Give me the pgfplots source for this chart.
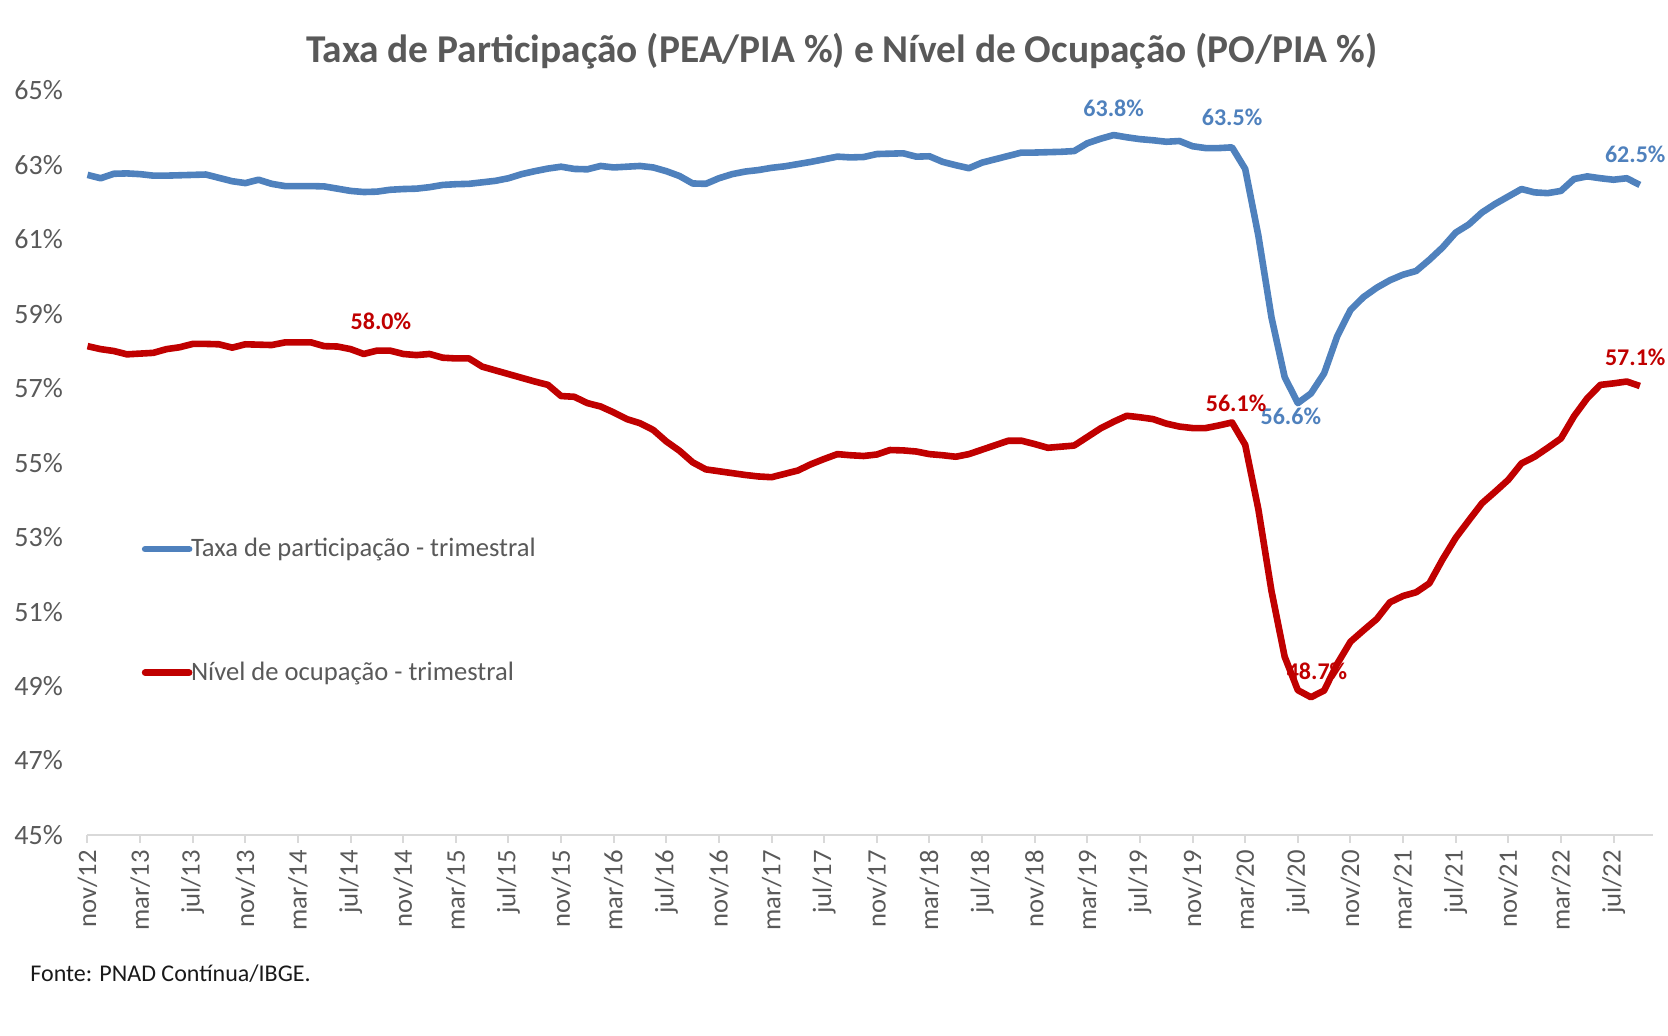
\documentclass[border=0pt]{standalone}
\usepackage{fontspec}
\setmainfont{Carlito}
\usepackage{pgfplots}
\usepackage{pgfplotstable}
\pgfplotsset{compat=1.18}
\definecolor{txtgray}{HTML}{595959}
\definecolor{axgray}{HTML}{D9D9D9}
\definecolor{serblue}{HTML}{4F81BD}
\definecolor{serred}{HTML}{C00000}

\pgfplotstableread{
i v
0 62.73
1 62.64
2 62.76
3 62.77
4 62.75
5 62.71
6 62.71
7 62.72
8 62.73
9 62.74
10 62.65
11 62.56
12 62.51
13 62.60
14 62.49
15 62.43
16 62.43
17 62.43
18 62.42
19 62.36
20 62.30
21 62.27
22 62.28
23 62.33
24 62.35
25 62.36
26 62.40
27 62.46
28 62.48
29 62.49
30 62.53
31 62.57
32 62.64
33 62.75
34 62.83
35 62.90
36 62.95
37 62.89
38 62.88
39 62.97
40 62.93
41 62.95
42 62.97
43 62.93
44 62.83
45 62.70
46 62.50
47 62.49
48 62.64
49 62.75
50 62.82
51 62.86
52 62.92
53 62.96
54 63.02
55 63.08
56 63.15
57 63.22
58 63.20
59 63.21
60 63.29
61 63.30
62 63.31
63 63.22
64 63.23
65 63.08
66 62.99
67 62.91
68 63.06
69 63.15
70 63.24
71 63.33
72 63.33
73 63.34
74 63.35
75 63.37
76 63.58
77 63.70
78 63.80
79 63.74
80 63.69
81 63.66
82 63.62
83 63.64
84 63.50
85 63.45
86 63.45
87 63.47
88 62.89
89 61.10
90 58.90
91 57.30
92 56.60
93 56.86
94 57.40
95 58.40
96 59.10
97 59.45
98 59.70
99 59.90
100 60.05
101 60.15
102 60.45
103 60.78
104 61.18
105 61.40
106 61.72
107 61.95
108 62.15
109 62.35
110 62.26
111 62.24
112 62.30
113 62.62
114 62.69
115 62.64
116 62.60
117 62.64
118 62.46
}\taxa

\pgfplotstableread{
i v
0 58.13
1 58.05
2 58.00
3 57.91
4 57.93
5 57.95
6 58.05
7 58.10
8 58.19
9 58.19
10 58.18
11 58.09
12 58.18
13 58.17
14 58.16
15 58.23
16 58.23
17 58.23
18 58.13
19 58.12
20 58.05
21 57.92
22 58.01
23 58.01
24 57.92
25 57.89
26 57.92
27 57.82
28 57.80
29 57.80
30 57.58
31 57.48
32 57.38
33 57.28
34 57.18
35 57.09
36 56.79
37 56.77
38 56.60
39 56.51
40 56.35
41 56.17
42 56.06
43 55.88
44 55.57
45 55.32
46 55.01
47 54.82
48 54.77
49 54.72
50 54.67
51 54.63
52 54.61
53 54.70
54 54.79
55 54.96
56 55.10
57 55.23
58 55.20
59 55.18
60 55.22
61 55.34
62 55.33
63 55.30
64 55.23
65 55.20
66 55.16
67 55.23
68 55.35
69 55.47
70 55.59
71 55.59
72 55.50
73 55.40
74 55.43
75 55.46
76 55.69
77 55.92
78 56.10
79 56.26
80 56.22
81 56.17
82 56.05
83 55.97
84 55.93
85 55.93
86 56.00
87 56.08
88 55.48
89 53.75
90 51.55
91 49.79
92 48.89
93 48.70
94 48.88
95 49.60
96 50.19
97 50.50
98 50.80
99 51.25
100 51.42
101 51.52
102 51.76
103 52.40
104 52.98
105 53.45
106 53.91
107 54.22
108 54.54
109 54.98
110 55.16
111 55.40
112 55.65
113 56.25
114 56.73
115 57.09
116 57.13
117 57.18
118 57.06
}\nivel

\begin{document}
\begin{tikzpicture}
\useasboundingbox (0,0) rectangle (834pt,518pt);
\begin{axis}[
  at={(43.75pt,100.5pt)}, anchor=south west,
  scale only axis, width=782.75pt, height=372.3pt,
  xmin=0, xmax=119, ymin=45, ymax=65,
  axis lines*=left,
  x axis line style={draw=axgray, line width=1pt},
  y axis line style={draw=none},
  ytick={45,47,49,51,53,55,57,59,61,63,65},
  yticklabels={45\%,47\%,49\%,51\%,53\%,55\%,57\%,59\%,61\%,63\%,65\%},
  ytick style={draw=none},
  xtick={0,4,...,116},
  xticklabels={nov/12,mar/13,jul/13,nov/13,mar/14,jul/14,nov/14,mar/15,jul/15,nov/15,mar/16,jul/16,nov/16,mar/17,jul/17,nov/17,mar/18,jul/18,nov/18,mar/19,jul/19,nov/19,mar/20,jul/20,nov/20,mar/21,jul/21,nov/21,mar/22,jul/22},
  xtick style={draw=axgray, line width=1pt},
  tick align=outside, major tick length=4pt,
  x tick label style={rotate=90, anchor=east, font=\fontsize{13.3}{15}\selectfont, text=txtgray},
  y tick label style={font=\fontsize{14}{16}\selectfont, text=txtgray, xshift=-4.8pt},
  clip=false,
  legend cell align=left,
  legend image code/.code={\draw[#1, line cap=round] (0pt,0pt) -- (22pt,0pt);},
  legend style={draw=none, fill=none, inner sep=0pt, at={(axis cs:4.1,51.02)}, anchor=west,
    font=\fontsize{13.3}{15}\selectfont, text=txtgray, row sep=47pt},
]
\addplot[serblue, line width=3.3pt, line join=round] table[x=i, y=v] {\taxa};
\addlegendentry{\hspace*{-2.7pt}Taxa de participação - trimestral}
\addplot[serred, line width=3.3pt, line join=round] table[x=i, y=v] {\nivel};
\addlegendentry{\hspace*{-2.7pt}Nível de ocupação - trimestral}

\tikzset{lbl/.style={font=\bfseries\fontsize{12}{14}\selectfont}}
\node[lbl, text=serblue] at (axis cs:78,63.80) [yshift=13.3pt] {63.8\%};
\node[lbl, text=serblue] at (axis cs:87,63.47) [yshift=15pt] {63.5\%};
\node[lbl, text=serblue] at (axis cs:118,62.46) [xshift=-2.3pt, yshift=15.4pt] {62.5\%};
\node[lbl, text=serblue] at (axis cs:92,56.60) [xshift=-3.5pt, yshift=-6.8pt] {56.6\%};
\node[lbl, text=serred] at (axis cs:22,58.01) [xshift=2pt, yshift=14.9pt] {58.0\%};
\node[lbl, text=serred] at (axis cs:87,56.08) [xshift=2pt, yshift=9.5pt] {56.1\%};
\node[lbl, text=serred] at (axis cs:93,48.70) [xshift=3pt, yshift=13pt] {48.7\%};
\node[lbl, text=serred] at (axis cs:118,57.06) [xshift=-2.3pt, yshift=14.4pt] {57.1\%};
\end{axis}
\node[font=\bfseries\fontsize{19.7}{24}\selectfont, text=txtgray] at (421pt,492.5pt) {Taxa de Participação (PEA/PIA \%) e Nível de Ocupação (PO/PIA \%)};
\node[anchor=west, font=\fontsize{12}{14}\selectfont, text=black!90, inner sep=0pt] at (15pt,31.3pt) {Fonte: PNAD Contínua/IBGE.};
\end{tikzpicture}
\end{document}
